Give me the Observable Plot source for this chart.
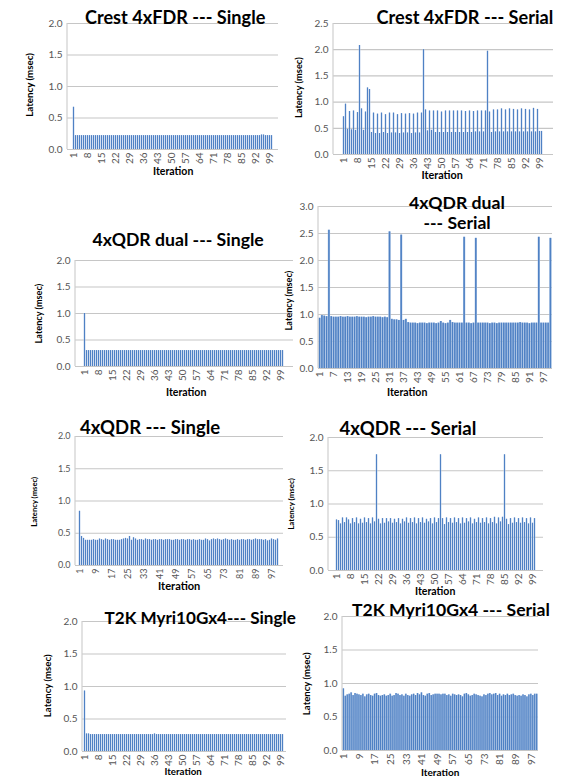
<!DOCTYPE html>
<html><head><meta charset="utf-8">
<script src="https://cdn.jsdelivr.net/npm/d3@7"></script>
<script src="https://cdn.jsdelivr.net/npm/@observablehq/plot@0.6"></script>
<style>
body{margin:0;background:#fff;}
#page{position:relative;width:571px;height:779px;overflow:hidden;font-family:Lato,"Open Sans",sans-serif;}
.panel{position:absolute;}
.txt{position:absolute;font-weight:bold;color:#000;white-space:nowrap;line-height:1;}
</style></head><body><div id="page"></div>
<script>
// ---------- DATA ----------
const iterations = d3.range(1, 101);

const crestSingle = [
0.67,0.22,0.22,0.22,0.22,0.22,0.22,0.22,0.22,0.22,
0.22,0.22,0.22,0.22,0.22,0.22,0.22,0.22,0.22,0.22,
0.22,0.22,0.22,0.22,0.22,0.22,0.22,0.22,0.22,0.22,
0.22,0.22,0.22,0.22,0.22,0.22,0.22,0.22,0.22,0.22,
0.22,0.22,0.22,0.22,0.22,0.22,0.22,0.22,0.22,0.22,
0.22,0.22,0.22,0.22,0.22,0.22,0.22,0.22,0.22,0.22,
0.22,0.22,0.22,0.22,0.22,0.22,0.22,0.22,0.22,0.22,
0.22,0.22,0.22,0.22,0.22,0.22,0.22,0.22,0.22,0.22,
0.22,0.22,0.22,0.22,0.22,0.22,0.22,0.22,0.22,0.22,
0.22,0.22,0.22,0.22,0.23,0.23,0.22,0.22,0.22,0.22];

const crestSerial = [
0.72,0.96,0.48,0.82,0.47,0.83,0.46,0.80,2.08,0.87,
0.46,0.81,1.27,1.24,0.42,0.79,0.40,0.77,0.40,0.79,
0.42,0.76,0.40,0.79,0.41,0.79,0.41,0.76,0.40,0.78,
0.41,0.77,0.41,0.78,0.40,0.77,0.41,0.79,0.41,0.79,
2.00,0.85,0.45,0.83,0.46,0.83,0.42,0.83,0.42,0.81,
0.42,0.83,0.42,0.83,0.42,0.83,0.42,0.83,0.42,0.83,
0.42,0.82,0.42,0.83,0.42,0.82,0.43,0.83,0.43,0.83,
0.43,0.83,1.97,0.81,0.42,0.85,0.43,0.85,0.43,0.87,
0.43,0.85,0.43,0.87,0.43,0.86,0.43,0.85,0.43,0.87,
0.43,0.86,0.43,0.85,0.43,0.88,0.43,0.86,0.44,0.44];

const qdrDualSingle = [
1.00,0.30,0.30,0.30,0.30,0.30,0.30,0.30,0.30,0.30,
0.30,0.30,0.30,0.30,0.30,0.30,0.30,0.30,0.30,0.30,
0.30,0.30,0.30,0.30,0.30,0.30,0.30,0.30,0.30,0.30,
0.30,0.30,0.30,0.30,0.30,0.30,0.30,0.30,0.30,0.30,
0.30,0.30,0.30,0.30,0.30,0.30,0.30,0.30,0.30,0.30,
0.30,0.30,0.30,0.30,0.30,0.30,0.30,0.30,0.30,0.30,
0.30,0.30,0.30,0.30,0.30,0.30,0.30,0.30,0.30,0.30,
0.30,0.30,0.30,0.30,0.30,0.30,0.30,0.30,0.30,0.30,
0.30,0.30,0.30,0.30,0.30,0.30,0.30,0.30,0.30,0.30,
0.30,0.30,0.30,0.30,0.30,0.30,0.30,0.30,0.30,0.30];

const qdrDualSerial = [
0.93,0.98,0.97,0.96,2.56,0.96,0.95,0.95,0.95,0.96,
0.95,0.95,0.96,0.95,0.95,0.95,0.96,0.95,0.95,0.95,
0.94,0.95,0.95,0.96,0.95,0.95,0.95,0.94,0.95,0.94,
2.53,0.91,0.90,0.90,0.89,2.47,0.89,0.91,0.85,0.84,
0.84,0.84,0.83,0.84,0.84,0.84,0.83,0.84,0.84,0.84,
0.83,0.84,0.87,0.84,0.83,0.84,0.89,0.85,0.84,0.84,
0.84,0.84,2.43,0.84,0.84,0.83,0.84,2.41,0.84,0.84,
0.84,0.84,0.84,0.83,0.84,0.84,0.83,0.84,0.84,0.84,
0.84,0.84,0.84,0.84,0.84,0.84,0.85,0.84,0.84,0.84,
0.83,0.84,0.84,0.84,2.43,0.84,0.84,0.84,0.84,2.41];

const qdrSingle = [
0.84,0.45,0.42,0.39,0.39,0.39,0.39,0.40,0.39,0.39,
0.41,0.40,0.39,0.41,0.40,0.39,0.40,0.40,0.39,0.39,
0.39,0.40,0.41,0.42,0.41,0.45,0.39,0.43,0.41,0.39,
0.40,0.40,0.39,0.41,0.40,0.40,0.39,0.40,0.40,0.39,
0.40,0.40,0.39,0.40,0.40,0.40,0.39,0.39,0.40,0.40,
0.39,0.40,0.40,0.39,0.40,0.40,0.39,0.40,0.39,0.39,
0.40,0.39,0.39,0.41,0.40,0.38,0.40,0.41,0.40,0.41,
0.40,0.39,0.40,0.41,0.40,0.39,0.40,0.39,0.39,0.40,
0.39,0.40,0.40,0.39,0.40,0.40,0.39,0.40,0.41,0.40,
0.40,0.40,0.39,0.40,0.38,0.39,0.41,0.40,0.39,0.41];

const qdrSerial = [
0.76,0.75,0.70,0.79,0.72,0.79,0.76,0.70,0.78,0.72,
0.79,0.70,0.77,0.71,0.79,0.72,0.78,0.70,0.79,0.73,
1.74,0.77,0.70,0.78,0.71,0.78,0.73,0.78,0.71,0.77,
0.72,0.78,0.70,0.77,0.73,0.79,0.71,0.78,0.72,0.79,
0.70,0.78,0.72,0.79,0.71,0.77,0.73,0.78,0.70,0.79,
0.72,0.78,1.74,0.78,0.69,0.79,0.72,0.78,0.71,0.79,
0.72,0.78,0.70,0.79,0.71,0.78,0.73,0.79,0.70,0.77,
0.72,0.79,0.71,0.78,0.72,0.79,0.70,0.78,0.72,0.80,
0.70,0.79,0.73,0.80,1.74,0.77,0.69,0.78,0.71,0.79,
0.72,0.78,0.71,0.79,0.72,0.78,0.70,0.79,0.71,0.78];

const t2kSingle = [
0.93,0.27,0.27,0.26,0.26,0.26,0.26,0.26,0.26,0.26,
0.26,0.26,0.26,0.26,0.26,0.26,0.26,0.26,0.26,0.26,
0.26,0.26,0.26,0.26,0.26,0.26,0.26,0.26,0.26,0.26,
0.26,0.26,0.26,0.26,0.26,0.27,0.26,0.26,0.26,0.26,
0.26,0.26,0.26,0.26,0.26,0.26,0.26,0.26,0.26,0.26,
0.26,0.26,0.26,0.26,0.26,0.26,0.26,0.26,0.26,0.26,
0.26,0.26,0.26,0.26,0.26,0.26,0.26,0.26,0.26,0.26,
0.26,0.26,0.26,0.26,0.26,0.26,0.26,0.26,0.26,0.26,
0.26,0.26,0.26,0.26,0.26,0.26,0.26,0.26,0.26,0.26,
0.26,0.26,0.26,0.26,0.26,0.26,0.26,0.26,0.26,0.26];

const t2kSerial = [
0.92,0.81,0.83,0.84,0.86,0.82,0.85,0.84,0.83,0.82,
0.84,0.80,0.83,0.84,0.82,0.81,0.84,0.85,0.82,0.81,
0.82,0.83,0.81,0.82,0.84,0.81,0.82,0.85,0.84,0.82,
0.83,0.81,0.84,0.82,0.81,0.83,0.84,0.82,0.85,0.83,
0.86,0.82,0.81,0.84,0.85,0.82,0.83,0.84,0.84,0.84,
0.83,0.84,0.84,0.82,0.83,0.81,0.84,0.83,0.82,0.83,
0.82,0.80,0.84,0.85,0.83,0.81,0.82,0.84,0.83,0.82,
0.81,0.80,0.83,0.82,0.84,0.85,0.83,0.84,0.85,0.82,
0.84,0.81,0.83,0.82,0.84,0.82,0.83,0.84,0.82,0.81,
0.82,0.81,0.83,0.82,0.80,0.83,0.84,0.82,0.84,0.84];

// tick labels
const xTicks7 = [1,8,15,22,29,36,43,50,57,64,71,78,85,92,99];
const xTicks6 = [1,7,13,19,25,31,37,43,49,55,61,67,73,79,85,91,97];
const xTicks8 = [1,9,17,25,33,41,49,57,65,73,81,89,97];
const yTicks20 = [0,0.5,1.0,1.5,2.0];
const yTicks25 = [0,0.5,1.0,1.5,2.0,2.5];
const yTicks30 = [0,0.5,1.0,1.5,2.0,2.5,3.0];

const titles = ["Crest 4xFDR --- Single","Crest 4xFDR --- Serial","4xQDR dual --- Single",
  "4xQDR dual","--- Serial","4xQDR --- Single","4xQDR --- Serial","T2K Myri10Gx4--- Single","T2K Myri10Gx4  --- Serial"];
const yLabel = "Latency (msec)";
const xLabel = "Iteration";

// ---------- LAYOUT ----------
const panels = [
 {values:crestSingle, yTicks:yTicks20, xTicks:xTicks7, box:{l:67,r:278,t:23,b:149}, fs:10,
  titles:[{t:titles[0],cx:175,cy:17,w:180}], yl:{x:30,y:85,w:64}, xl:{x:173,y:171,w:40}},
 {values:crestSerial, yTicks:yTicks25, xTicks:xTicks7, box:{l:333,r:553,t:23,b:154}, fs:10,
  titles:[{t:titles[1],cx:465,cy:17,w:177}], yl:{x:298,y:87,w:61}, xl:{x:442,y:175,w:41}},
 {values:qdrDualSingle, yTicks:yTicks20, xTicks:xTicks7, box:{l:75,r:293,t:260,b:366}, fs:10,
  titles:[{t:titles[2],cx:178,cy:240,w:171}], yl:{x:39,y:313,w:60}, xl:{x:186,y:392,w:40}},
 {values:qdrDualSerial, yTicks:yTicks30, xTicks:xTicks6, box:{l:318,r:552,t:206,b:368}, fs:10,
  titles:[{t:titles[3],cx:457,cy:203,w:96},{t:titles[4],cx:457,cy:223,w:67}], yl:{x:289,y:300,w:60}, xl:{x:407,y:392,w:40}},
 {values:qdrSingle, yTicks:yTicks20, xTicks:xTicks8, box:{l:75,r:283,t:436,b:565}, fs:9,
  titles:[{t:titles[5],cx:150,cy:427,w:140}], yl:{x:35,y:502,w:50}, xl:{x:179,y:585,w:42}},
 {values:qdrSerial, yTicks:yTicks20, xTicks:xTicks7, box:{l:328,r:543,t:437,b:570}, fs:10,
  titles:[{t:titles[6],cx:408,cy:428,w:137}], yl:{x:292,y:504,w:52}, xl:{x:435,y:591,w:40}},
 {values:t2kSingle, yTicks:yTicks20, xTicks:xTicks7, box:{l:82,r:286,t:621,b:751}, fs:10,
  titles:[{t:titles[7],cx:200,cy:617,w:191}], yl:{x:47,y:686,w:63}, xl:{x:183,y:772,w:37}},
 {values:t2kSerial, yTicks:yTicks20, xTicks:xTicks8, box:{l:342,r:538,t:616,b:750}, fs:10,
  titles:[{t:titles[8],cx:451,cy:610,w:198}], yl:{x:306,y:684,w:63}, xl:{x:440,y:772,w:38}}
];

const page = document.getElementById("page");
const barColor = "#4f81c4";
const barLight = "#b3c9e8";
const gridColor = "#c6c6c6";
const pad = 0.35;

function addText(str, cx, cy, targetW, rotate, base) {
  const el = document.createElement("div");
  el.className = "txt";
  el.textContent = str;
  el.style.fontSize = base + "px";
  page.appendChild(el);
  const w0 = el.offsetWidth;
  const fs = base * targetW / w0;
  el.style.fontSize = fs.toFixed(2) + "px";
  const w = el.offsetWidth, h = el.offsetHeight;
  el.style.left = (cx - w / 2) + "px";
  el.style.top = (cy - h / 2) + "px";
  if (rotate) el.style.transform = "rotate(-90deg)";
  el.style.zIndex = 5;
}

panels.forEach(p => {
  const mL = 34, mR = 6, mT = 8, mB = 24;
  const W = p.box.r - p.box.l + mL + mR;
  const H = p.box.b - p.box.t + mT + mB;
  const yMax = p.yTicks[p.yTicks.length - 1];
  const data = iterations.map((it, i) => ({it, v: p.values[i]}));
  const step = (p.box.r - p.box.l) / (iterations.length - pad + 2 * pad);
  const gapHalf = -(step * pad) / 2;
  const chart = Plot.plot({
    width: W, height: H,
    marginLeft: mL, marginRight: mR, marginTop: mT, marginBottom: mB,
    style: {fontFamily: "Lato, 'Open Sans', sans-serif", fontSize: p.fs + "px", color: "#555", background: "transparent", overflow: "visible"},
    x: {type: "band", domain: iterations, padding: pad, ticks: p.xTicks, tickRotate: -90, tickSize: 0, tickPadding: 3, label: null},
    y: {domain: [0, yMax], ticks: p.yTicks, tickFormat: d3.format(".1f"), tickSize: 0, tickPadding: 5, label: null},
    marks: [
      Plot.gridY(p.yTicks, {stroke: gridColor, strokeOpacity: 1, strokeWidth: 1.2}),
      Plot.barY(data, {x: "it", y: "v", fill: barLight, insetLeft: gapHalf, insetRight: gapHalf}),
      Plot.barY(data, {x: "it", y: "v", fill: barColor})
    ]
  });
  const sx = chart.scale("x"), sy = chart.scale("y");
  d3.select(chart).append("line")
    .attr("x1", sx.range[0]).attr("x2", sx.range[0])
    .attr("y1", sy.range[0]).attr("y2", sy.range[1])
    .attr("stroke", "#cfcfcf").attr("stroke-width", 1.2);
  const div = document.createElement("div");
  div.className = "panel";
  div.style.left = (p.box.l - mL) + "px";
  div.style.top = (p.box.t - mT) + "px";
  div.appendChild(chart);
  page.appendChild(div);

  p.titles.forEach(t => addText(t.t, t.cx, t.cy, t.w, false, 16));
  addText(yLabel, p.yl.x, p.yl.y, p.yl.w, true, 9);
  addText(xLabel, p.xl.x, p.xl.y, p.xl.w, false, 10);
});
</script>
</body></html>
